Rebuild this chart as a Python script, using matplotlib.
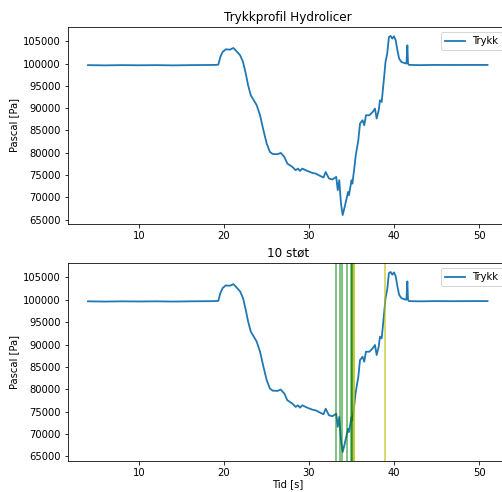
import matplotlib
matplotlib.use("Agg")
import matplotlib.pyplot as plt

# Pressure log: time [s] and pressure [Pa]
tid = [4.0, 6.0, 8.0, 10.0, 12.0, 14.0, 16.0, 18.0, 19.0, 19.33,
       19.57, 19.84, 20.2, 20.7, 21.1, 21.37, 21.9, 22.24, 22.56, 22.84,
       23.15, 23.46, 23.85, 24.24, 24.64, 25.02, 25.4, 25.73, 26.3, 26.67,
       27.1, 27.45, 28.05, 28.43, 28.7, 28.94, 29.2, 29.8, 30.4, 30.8,
       31.4, 31.7, 31.96, 32.35, 32.75, 33.0, 33.2, 33.38, 33.56, 33.76,
       33.96, 34.2, 34.6, 34.7, 35.0, 35.1, 35.3, 35.5, 35.8, 36.0,
       36.3, 36.5, 36.7, 37.1, 37.5, 37.76, 37.96, 38.2, 38.35, 38.55,
       38.8, 39.0, 39.2, 39.4, 39.6, 39.8, 40.0, 40.2, 40.4, 40.6,
       40.87, 41.2, 41.46, 41.57, 41.65, 41.76, 43.0, 45.0, 47.0, 49.0,
       51.0]
trykk = [99650, 99600, 99650, 99620, 99650, 99600, 99650, 99680, 99700, 99750,
         101480, 102600, 103200, 103130, 103500, 102980, 101860, 100360, 97760, 95130,
         92890, 91920, 90640, 88400, 85040, 82060, 80170, 79700, 79650, 79950,
         79050, 77560, 76800, 76060, 76430, 75900, 76430, 75900, 75450, 75300,
         74700, 74420, 75670, 74200, 73980, 74300, 74560, 71600, 73830, 68600,
         66000, 67850, 71200, 70460, 73800, 73060, 76060, 79420, 82780, 86540,
         87280, 86160, 88400, 88400, 89150, 89900, 87660, 89520, 91770, 91390,
         96250, 100360, 102240, 105960, 106200, 105600, 106120, 105220, 102980, 101120,
         100360, 100130, 100000, 104100, 100000, 99700, 99650, 99700, 99680, 99700,
         99700]

# Impact times [s]
stot_gronn = [33.12, 33.7, 33.85, 34.46, 34.94, 35.0, 35.03]
stot_gul = [35.27, 35.32, 38.9]

fig = plt.figure(figsize=(502 / 72, 492 / 72), dpi=72)
ax1 = fig.add_axes([68 / 502, 1 - 224 / 492, 439.5 / 502, 197 / 492])
ax2 = fig.add_axes([68 / 502, 1 - 461 / 492, 439.5 / 502, 198 / 492])

ax1.plot(tid, trykk, color="#1f77b4", lw=1.8, label="Trykk")
ax1.set_title("Trykkprofil Hydrolicer")
ax1.set_ylabel("Pascal [Pa]")
ax1.legend(loc="upper right")

ax2.plot(tid, trykk, color="#1f77b4", lw=1.8, label="Trykk")
for t in stot_gronn:
    ax2.axvline(t, color="g", alpha=0.6, lw=1.6)
for t in stot_gul:
    ax2.axvline(t, color="y", alpha=0.7, lw=1.6)
ax2.set_title("10 støt")
ax2.set_ylabel("Pascal [Pa]")
ax2.set_xlabel("Tid [s]", labelpad=1)
ax2.legend(loc="upper right")

for ax in (ax1, ax2):
    ax.set_xticks([10, 20, 30, 40, 50])
    ax.set_yticks(range(65000, 105001, 5000))

fig.savefig("out.png", dpi=72)
